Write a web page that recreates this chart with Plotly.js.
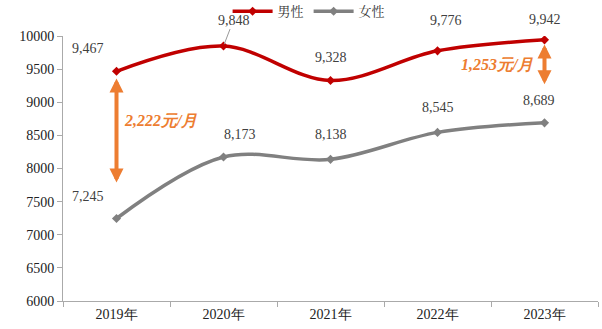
<!DOCTYPE html>
<html><head><meta charset="utf-8">
<script src="https://cdn.plot.ly/plotly-3.0.1.min.js"></script>
<style>html,body{margin:0;padding:0;background:#fff}#c{width:602px;height:329px}</style>
</head><body><div id="c"></div>
<script>
const years = ['2019年','2020年','2021年','2022年','2023年'];
const male = [9467, 9848, 9328, 9776, 9942];
const female = [7245, 8173, 8138, 8545, 8689];
const gapLabels = ['2,222元/月', '1,253元/月'];

const serif = 'Liberation Serif, Times New Roman, serif';
const fmt = v => v.toLocaleString('en-US');

const traces = [
  {x: years, y: male, name: '男性', type: 'scatter', mode: 'lines+markers',
   line: {color: '#C00000', width: 3.5, shape: 'spline', smoothing: 1},
   marker: {symbol: 'diamond', size: 7, color: '#C00000'}},
  {x: years, y: female, name: '女性', type: 'scatter', mode: 'lines+markers',
   line: {color: '#808080', width: 3.5, shape: 'spline', smoothing: 1},
   marker: {symbol: 'diamond', size: 7, color: '#808080'}}
];

const maleOff = [[-29, 23], [10, 26], [0, 23], [8, 30], [0, 20]];
const femOff = [[-29, 22], [16, 23], [0, 25], [0, 25], [-6, 22]];
const ann = [];
male.forEach((v, i) => {
  if (i === 1) {
    ann.push({x: years[i], y: v, text: fmt(v), showarrow: true, arrowhead: 0, arrowwidth: 1,
      arrowcolor: '#999', ax: 10, ay: -26, standoff: 2,
      font: {family: serif, size: 14, color: '#404040'}});
  } else {
    ann.push({x: years[i], y: v, text: fmt(v), showarrow: false,
      xshift: maleOff[i][0], yshift: maleOff[i][1],
      font: {family: serif, size: 14, color: '#404040'}});
  }
});
female.forEach((v, i) => {
  ann.push({x: years[i], y: v, text: fmt(v), showarrow: false,
    xshift: femOff[i][0], yshift: femOff[i][1],
    font: {family: serif, size: 14, color: '#404040'}});
});
// gap arrows
ann.push({x: years[0], y: male[0] - 110, ax: years[0], ay: female[0] + 520,
  axref: 'x', ayref: 'y', showarrow: true, arrowside: 'end+start', arrowhead: 2,
  arrowsize: 0.7, arrowwidth: 4, arrowcolor: '#ED7D31', text: ''});
ann.push({x: years[4], y: male[4] - 70, ax: years[4], ay: female[4] + 560,
  axref: 'x', ayref: 'y', showarrow: true, arrowside: 'end+start', arrowhead: 2,
  arrowsize: 0.7, arrowwidth: 4, arrowcolor: '#ED7D31', text: ''});
ann.push({x: 0.41, y: 8720, text: '<b><i>' + gapLabels[0] + '</i></b>', showarrow: false,
  font: {family: serif, size: 16, color: '#ED7D31'}});
ann.push({x: 3.56, y: 9570, text: '<b><i>' + gapLabels[1] + '</i></b>', showarrow: false,
  font: {family: serif, size: 16, color: '#ED7D31'}});

const layout = {
  width: 602, height: 329,
  margin: {l: 63, r: 4, t: 36, b: 28, autoexpand: false},
  paper_bgcolor: '#fff', plot_bgcolor: '#fff',
  showlegend: true,
  legend: {orientation: 'h', x: 0.46, xanchor: 'center', y: 1.15, yanchor: 'top',
    font: {family: 'Noto Serif CJK SC, Noto Sans CJK SC, serif', size: 13, color: '#333'},
    itemwidth: 40, tracegroupgap: 0, bgcolor: 'rgba(0,0,0,0)'},
  xaxis: {type: 'category', range: [-0.5, 4.5], showgrid: false, zeroline: false,
    showline: true, linecolor: '#aaa', linewidth: 1, ticks: 'outside', tickson: 'boundaries',
    ticklen: 5, tickcolor: '#aaa', automargin: false,
    tickfont: {family: serif, size: 14, color: '#222'}},
  yaxis: {range: [6000, 10000], dtick: 500, tickformat: 'd', showgrid: false, zeroline: false,
    showline: true, linecolor: '#aaa', linewidth: 1, ticks: 'outside', ticklen: 5,
    tickcolor: '#aaa', automargin: false, tickfont: {family: serif, size: 14, color: '#222'}},
  annotations: ann
};
Plotly.newPlot('c', traces, layout, {displayModeBar: false, staticPlot: true});
</script></body></html>
